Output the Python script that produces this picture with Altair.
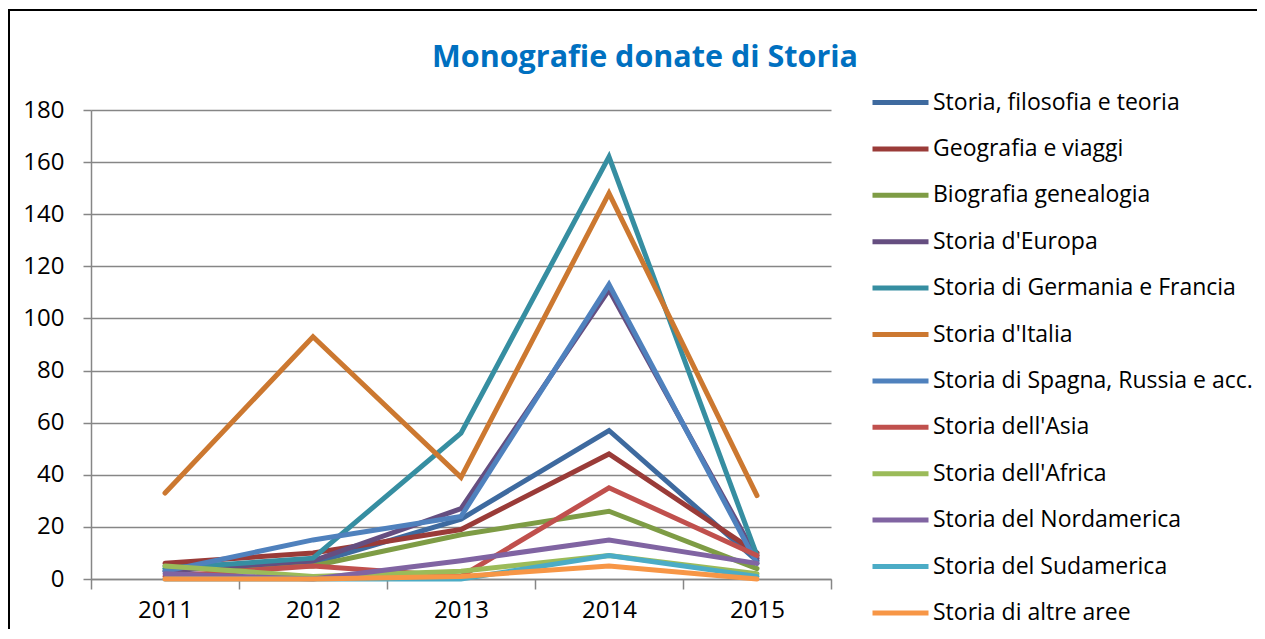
import altair as alt
import pandas as pd

years = ["2011", "2012", "2013", "2014", "2015"]
series = [
    "Storia, filosofia e teoria",
    "Geografia e viaggi",
    "Biografia genealogia",
    "Storia d'Europa",
    "Storia di Germania e Francia",
    "Storia d'Italia",
    "Storia di Spagna, Russia e acc.",
    "Storia dell'Asia",
    "Storia dell'Africa",
    "Storia del Nordamerica",
    "Storia del Sudamerica",
    "Storia di altre aree",
]
filosofia = [5, 6, 23, 57, 7]
geografia = [6, 10, 19, 48, 10]
biografia = [4, 5, 17, 26, 4]
europa = [3, 7, 27, 111, 8]
germania = [4, 8, 56, 162, 9]
italia = [33, 93, 39, 148, 32]
spagna = [3, 15, 24, 113, 6]
asia = [1, 5, 1, 35, 9]
africa = [5, 1, 3, 9, 2]
nordamerica = [2, 0, 7, 15, 6]
sudamerica = [0, 0, 0, 9, 1]
altre = [0, 0, 1, 5, 0]
values = [filosofia, geografia, biografia, europa, germania, italia,
          spagna, asia, africa, nordamerica, sudamerica, altre]
colors = ["#3E6A9F", "#9A3B38", "#7E9C45", "#654E80", "#368EA1", "#CC7830",
          "#4F81BD", "#C0504D", "#9BBB59", "#8064A2", "#4BACC6", "#F79646"]
y_ticks = [0, 20, 40, 60, 80, 100, 120, 140, 160, 180]
title_text = "Monografie donate di Storia"

rows = []
for s, vals in zip(series, values):
    for yr, v in zip(years, vals):
        rows.append({"serie": s, "anno": yr, "valore": v})
df = pd.DataFrame(rows)

FONT = "Open Sans"
GRAY = "#868686"

lines = alt.Chart(df).mark_line(strokeWidth=5, strokeCap="round").encode(
    x=alt.X("anno:O",
            scale=alt.Scale(type="band", paddingInner=0, paddingOuter=0),
            bandPosition=0.5,
            axis=alt.Axis(title=None, labelAngle=0, tickBand="extent", grid=False,
                          tickSize=10, labelPadding=9, labelFontSize=24,
                          labelFont=FONT, labelColor="#000000",
                          domainColor=GRAY, tickColor=GRAY,
                          domainWidth=1.5, tickWidth=1.5)),
    y=alt.Y("valore:Q",
            scale=alt.Scale(domain=[0, 180], nice=False),
            axis=alt.Axis(title=None, values=y_ticks, grid=True, gridColor=GRAY,
                          gridWidth=1.5, tickSize=8, labelPadding=19,
                          labelFontSize=24, labelFont=FONT, labelColor="#000000",
                          domainColor=GRAY, tickColor=GRAY,
                          domainWidth=1.5, tickWidth=1.5)),
    color=alt.Color("serie:N",
                    scale=alt.Scale(domain=series, range=colors),
                    sort=series,
                    legend=alt.Legend(title=None, orient="none", legendX=779,
                                      legendY=-38, symbolType="stroke",
                                      symbolSize=3136, symbolStrokeWidth=5,
                                      labelFontSize=23, labelFont=FONT,
                                      labelColor="#000000", labelOffset=2,
                                      rowPadding=3.4, labelLimit=400)),
)

title = alt.Chart(pd.DataFrame({"t": [title_text]})).mark_text(
    font=FONT, fontSize=30.5, fontWeight="bold", color="#0070C0",
    align="center", baseline="middle"
).encode(text="t:N", x=alt.value(554), y=alt.value(-52))

frame_left = alt.Chart(pd.DataFrame({"a": [0]})).mark_rule(
    color="#000000", strokeWidth=2
).encode(x=alt.value(-82), x2=alt.value(-82), y=alt.value(-101), y2=alt.value(640))

frame_top = alt.Chart(pd.DataFrame({"a": [0]})).mark_rule(
    color="#000000", strokeWidth=2
).encode(x=alt.value(-83), x2=alt.value(1170), y=alt.value(-100), y2=alt.value(-100))

chart = alt.layer(lines, title, frame_left, frame_top).properties(
    width=740, height=469,
    padding={"left": 83, "top": 102, "right": 426, "bottom": 50},
    autosize=alt.AutoSizeParams(type="none"),
).configure_view(stroke=None)

chart.save("out.html", embed_options={"renderer": "svg", "actions": False})
